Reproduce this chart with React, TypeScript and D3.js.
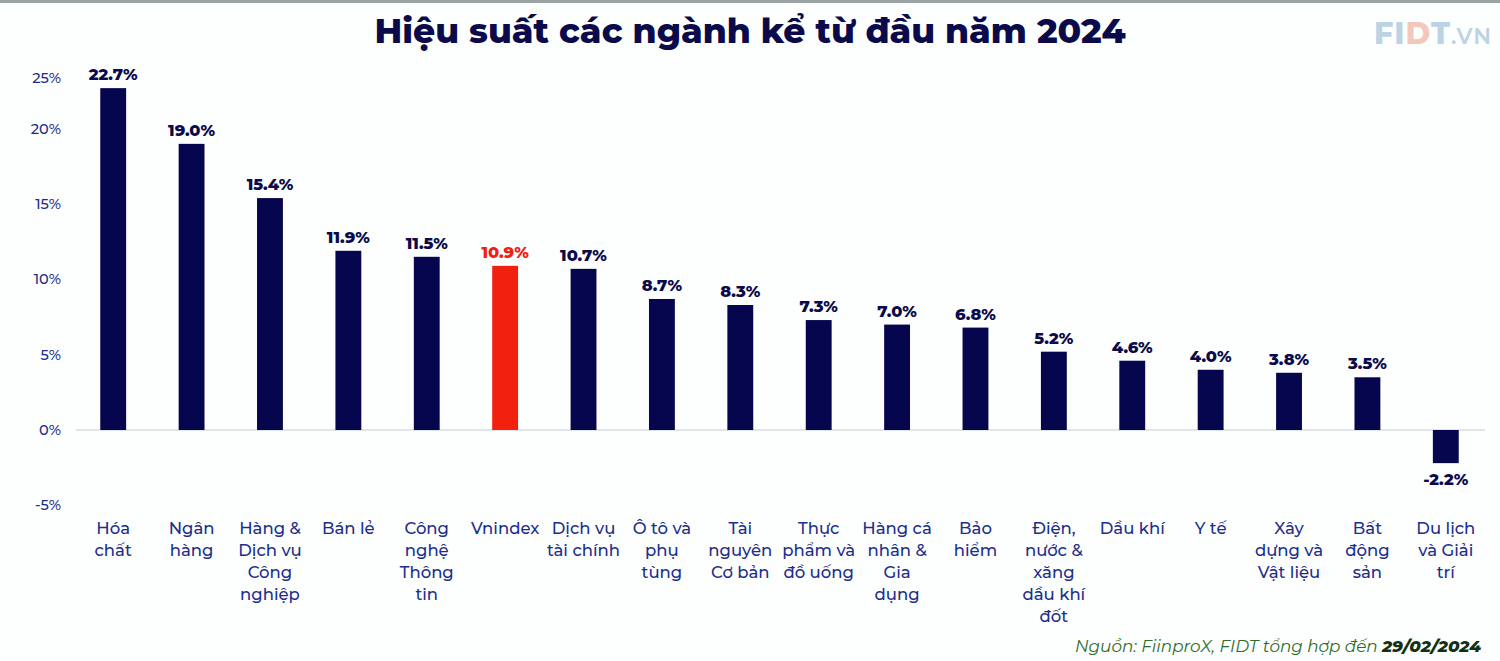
import React from "react";
import * as d3 from "d3";

const categories: string[][] = [
  ["Hóa", "chất"],
  ["Ngân", "hàng"],
  ["Hàng &", "Dịch vụ", "Công", "nghiệp"],
  ["Bán lẻ"],
  ["Công", "nghệ", "Thông", "tin"],
  ["Vnindex"],
  ["Dịch vụ", "tài chính"],
  ["Ô tô và", "phụ", "tùng"],
  ["Tài", "nguyên", "Cơ bản"],
  ["Thực", "phẩm và", "đồ uống"],
  ["Hàng cá", "nhân &", "Gia", "dụng"],
  ["Bảo", "hiểm"],
  ["Điện,", "nước &", "xăng", "dầu khí", "đốt"],
  ["Dầu khí"],
  ["Y tế"],
  ["Xây", "dựng và", "Vật liệu"],
  ["Bất", "động", "sản"],
  ["Du lịch", "và Giải", "trí"],
];
const values: number[] = [22.7, 19.0, 15.4, 11.9, 11.5, 10.9, 10.7, 8.7, 8.3, 7.3, 7.0, 6.8, 5.2, 4.6, 4.0, 3.8, 3.5, -2.2];
const yTicks: number[] = [-5, 0, 5, 10, 15, 20, 25];
const highlight = "Vnindex";

const W = 1500;
const H = 661;
const FONT = "Montserrat, 'Open Sans', 'Noto Sans', sans-serif";

export default function App() {
  const keys = categories.map((c) => c.join(" "));
  const x = d3.scaleBand<string>().domain(keys).range([74, 1485]).paddingInner(0.67).paddingOuter(0.335);
  const y = d3.scaleLinear().domain([-5, 25]).range([505.3, 53.5]);
  const navy = "#06064e";
  const red = "#f2200f";
  const axisBlue = "#1c2f8c";

  return (
    <svg width={W} height={H} style={{ position: "absolute", left: 0, top: 0, background: "#fff" }} fontFamily={FONT}>
      <rect x={0} y={0} width={W} height={H} fill="#fdfefe" />
      <rect x={0} y={0} width={W} height={3} fill="#9aa3a3" />
      <text x={750} y={43} textAnchor="middle" fontSize={34.5} fontWeight={800} fill="#0b0b4b">
        Hiệu suất các ngành kể từ đầu năm 2024
      </text>
      <text x={1374} y={44} fontSize={30} fontWeight={800} fill="#bcd3e4" letterSpacing={1}>
        FI<tspan fill="#f3c8bb">D</tspan>T<tspan fontSize={22} fontWeight={600}>.VN</tspan>
      </text>
      {yTicks.map((t) => (
        <text
          key={t}
          x={61}
          y={Math.max(y(t), 78) + 5}
          textAnchor="end"
          fontSize={14.5}
          fontWeight={500}
          fill={axisBlue}
        >
          {t}%
        </text>
      ))}
      <line x1={76} x2={1485} y1={y(0)} y2={y(0)} stroke="#c8cbd2" strokeWidth={1.2} />
      {keys.map((k, i) => {
        const v = values[i];
        const bx = x(k)!;
        const bw = x.bandwidth();
        const top = Math.min(y(v), y(0));
        const h = Math.abs(y(v) - y(0));
        const col = categories[i][0] === highlight ? red : navy;
        const cx = bx + bw / 2;
        return (
          <g key={k}>
            <rect x={bx} y={top} width={bw} height={h} fill={col} />
            <text
              x={cx}
              y={v >= 0 ? y(v) - 8 : y(v) + 22}
              textAnchor="middle"
              fontSize={16.3}
              fontWeight={800}
              fill={categories[i][0] === highlight ? red : "#0b0b4b"}
            >
              {v.toFixed(1)}%
            </text>
            {categories[i].map((line, j) => (
              <text key={j} x={cx} y={534 + j * 22} textAnchor="middle" fontSize={16.5} fontWeight={500} fill={axisBlue}>
                {line}
              </text>
            ))}
          </g>
        );
      })}
      <text x={1481} y={652} textAnchor="end" fontSize={16.8} fontStyle="italic" fill="#2f6b2c">
        Nguồn: FiinproX, FIDT tổng hợp đến <tspan fontWeight={800} fill="#123012">29/02/2024</tspan>
      </text>
    </svg>
  );
}
